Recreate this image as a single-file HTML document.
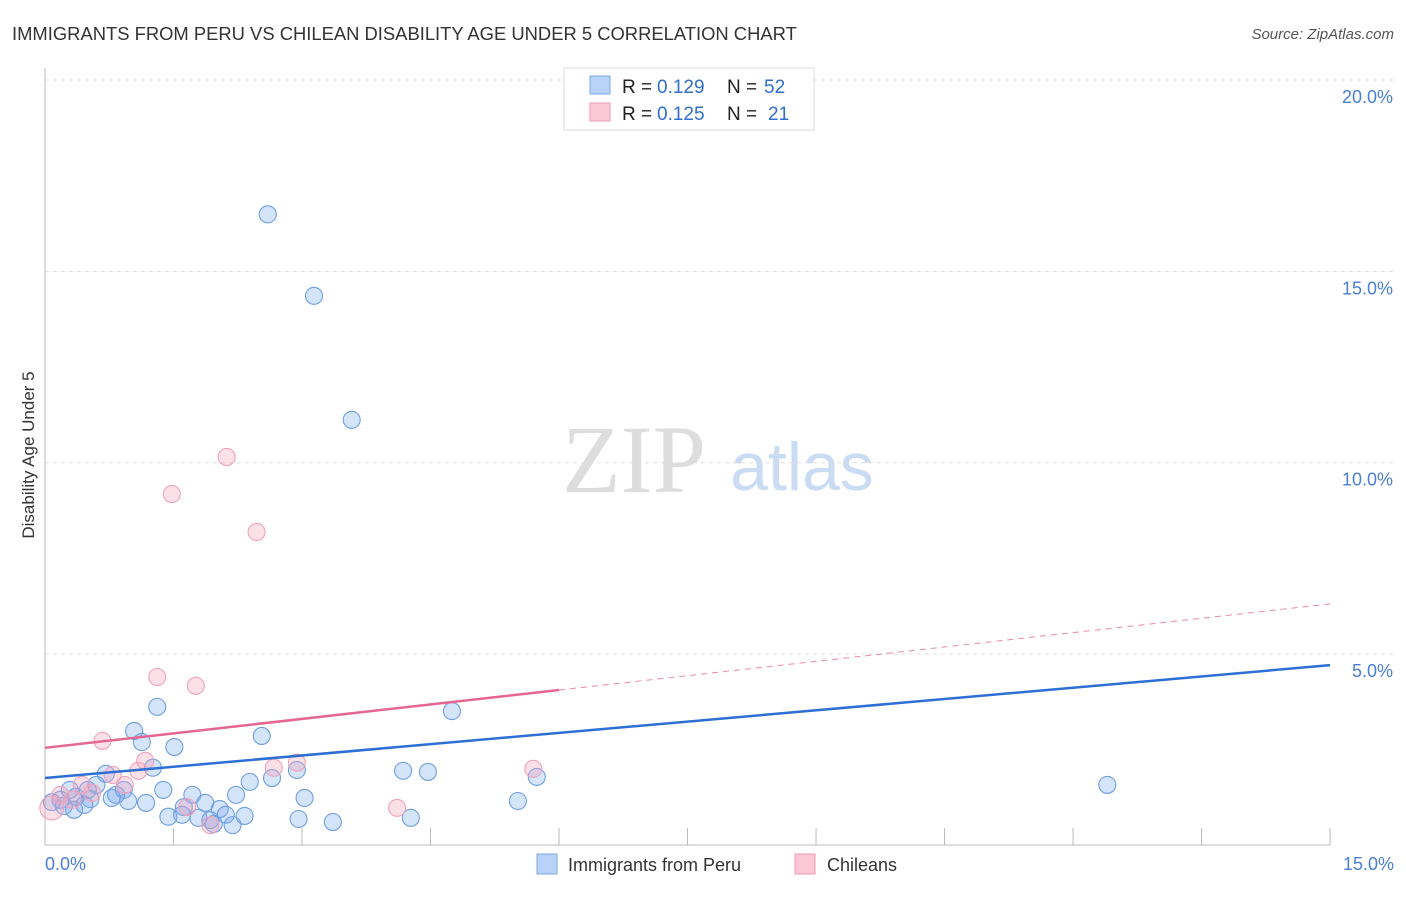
<!DOCTYPE html>
<html><head><meta charset="utf-8">
<style>
body{margin:0;background:#fff;font-family:"Liberation Sans",sans-serif}
</style></head>
<body>
<svg id="chart" width="1406" height="892" xmlns="http://www.w3.org/2000/svg" style="font-family:'Liberation Sans',sans-serif">
<text x="12" y="40" font-size="18.4" fill="#333">IMMIGRANTS FROM PERU VS CHILEAN DISABILITY AGE UNDER 5 CORRELATION CHART</text>
<text x="1394" y="39" font-size="15" fill="#555" font-style="italic" text-anchor="end">Source: ZipAtlas.com</text>
<text x="634" y="492" font-size="96" fill="#ddd" style="font-family:'Liberation Serif',serif" text-anchor="middle">ZIP</text>
<text x="802" y="490" font-size="68" fill="#c9dcf3" text-anchor="middle">atlas</text>
<g id="grid"></g>
<g id="axes"></g>
<g id="marks"></g>
<text transform="translate(34,455) rotate(-90)" font-size="17" fill="#333" text-anchor="middle">Disability Age Under 5</text>
<g>
<rect x="564" y="68" width="250" height="62" fill="#fff" stroke="#ddd"/>
<rect x="590" y="76" width="20" height="18" fill="#b8d3f7" stroke="#7aa7e6"/>
<rect x="590" y="103" width="20" height="18" fill="#fbc7d6" stroke="#ef9bb3"/>
<text x="622" y="93" font-size="19" fill="#222">R =</text>
<text x="657" y="93" font-size="19" fill="#2f6fd0">0.129</text>
<text x="727" y="93" font-size="19" fill="#222">N =</text>
<text x="764" y="93" font-size="19" fill="#2f6fd0">52</text>
<text x="622" y="120" font-size="19" fill="#222">R =</text>
<text x="657" y="120" font-size="19" fill="#2f6fd0">0.125</text>
<text x="727" y="120" font-size="19" fill="#222">N =</text>
<text x="768" y="120" font-size="19" fill="#2f6fd0">21</text>
</g>
<g>
<rect x="537" y="854" width="20" height="20" fill="#b8d3f7" stroke="#7aa7e6"/>
<text x="568" y="871" font-size="18" fill="#333">Immigrants from Peru</text>
<rect x="795" y="854" width="20" height="20" fill="#fbc7d6" stroke="#ef9bb3"/>
<text x="827" y="871" font-size="18" fill="#333">Chileans</text>
</g>
</svg>
<script>
const yTicks=[5,10,15,20];
const yTickLabels=["5.0%","10.0%","15.0%","20.0%"];
const xTickLabels=["0.0%","15.0%"];
const peruX=[2.60,3.14,3.58,1.31,1.04,1.13,1.51,2.53,4.75,1.26,0.71,2.94,4.18,4.47,5.74,12.40,2.65,2.39,0.60,0.92,1.38,1.72,2.23,3.03,5.52,0.78,0.97,1.18,1.87,1.62,2.04,0.53,0.36,0.18,0.08,0.22,0.34,1.44,1.60,1.79,1.93,1.97,2.11,2.19,2.33,2.96,3.36,4.27,0.46,0.83,0.50,0.29];
const peruY=[16.49,14.36,11.12,3.62,2.99,2.70,2.57,2.86,3.51,2.03,1.87,1.97,1.95,1.92,1.79,1.58,1.76,1.66,1.58,1.45,1.45,1.32,1.32,1.24,1.16,1.24,1.16,1.11,1.11,1.00,0.95,1.21,1.27,1.19,1.13,1.03,0.93,0.75,0.80,0.72,0.66,0.56,0.80,0.53,0.77,0.69,0.61,0.72,1.06,1.32,1.45,1.45];
const chileX=[2.12,1.48,2.47,1.31,1.76,0.67,1.17,2.94,2.67,5.70,1.09,0.79,0.93,0.43,1.66,4.11,1.93,0.08,0.18,0.32,0.55];
const chileY=[10.15,9.18,8.19,4.40,4.17,2.73,2.21,2.16,2.03,2.00,1.95,1.84,1.58,1.58,1.00,0.98,0.53,0.98,1.32,1.19,1.37];
const peruTrend=[1.76,4.71];
const chileTrend=[2.55,4.06,6.31];
const NS="http://www.w3.org/2000/svg";
const X=v=>45+v*85.67, Y=v=>845.4-v*38.27;
function mk(tag,attrs,parent){const e=document.createElementNS(NS,tag);for(const k in attrs)e.setAttribute(k,attrs[k]);document.getElementById(parent).appendChild(e);return e;}
yTicks.forEach((t,i)=>{
 const l=mk('line',{x1:45,x2:1394,y1:Y(t),y2:Y(t),stroke:'#ddd','stroke-dasharray':'4,4'},'grid');
 
 
 const tx=mk('text',{x:1393,y:Y(t)+23,'font-size':18,fill:'#4a7fd4','text-anchor':'end'},'axes');
 tx.textContent=yTickLabels[i];
 
 
});
const ax=mk('line',{x1:45,x2:1330,y1:845,y2:845,stroke:'#bbb'},'axes');


const ay=mk('line',{x1:45,x2:45,y1:68,y2:845,stroke:'#bbb'},'axes');


for(let i=1;i<=10;i++){const t=mk('line',{x1:X(i*1.5),x2:X(i*1.5),y1:828,y2:845,stroke:'#bbb'},'axes');
 
 }
[[0,'start'],[15,'end']].forEach((p,i)=>{const t=mk('text',{x:i?1394:45,y:870,'font-size':18,fill:'#4a7fd4','text-anchor':p[1]},'axes');t.textContent=xTickLabels[i];
 
 });
peruX.forEach((x,i)=>{const c=mk('circle',{cx:X(x),cy:Y(peruY[i]),r:8.5,fill:'rgba(120,170,235,0.32)',stroke:'#6f9fe2','stroke-width':1.1},'marks');
 
 });
chileX.forEach((x,i)=>{const c=mk('circle',{cx:X(x),cy:Y(chileY[i]),r:i==17?12:8.5,fill:'rgba(245,160,185,0.32)',stroke:'#f0a3ba','stroke-width':1.1},'marks');
 
 });
const pl=mk('line',{x1:X(0),y1:Y(peruTrend[0]),x2:X(15),y2:Y(peruTrend[1]),stroke:'#2d6fd5','stroke-width':2.5},'marks');


const cl=mk('line',{x1:X(0),y1:Y(chileTrend[0]),x2:X(6),y2:Y(chileTrend[1]),stroke:'#e5668f','stroke-width':2.5},'marks');


const cd=mk('line',{x1:X(6),y1:Y(chileTrend[1]),x2:X(15),y2:Y(chileTrend[2]),stroke:'#e88aa8','stroke-width':1,'stroke-dasharray':'6,5'},'marks');


</script>
</body></html>
